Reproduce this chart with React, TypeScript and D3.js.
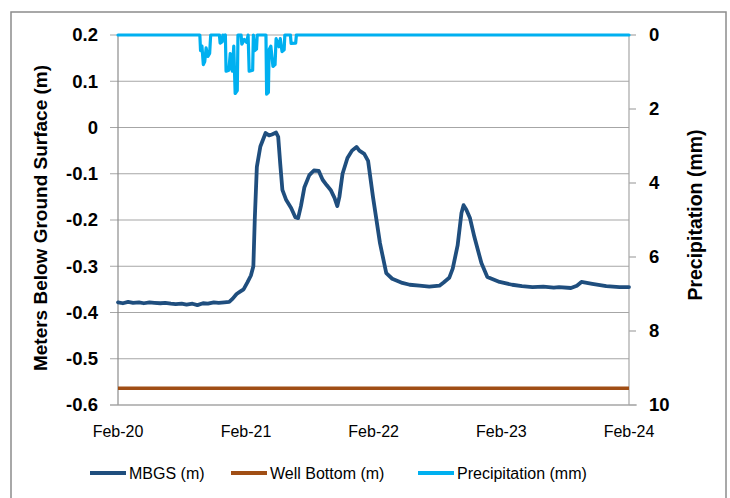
import React from 'react';
import * as d3 from 'd3';

// MBGS (m) readings
const mbgsDates = [
  '2020-02-01', '2020-02-15', '2020-03-01', '2020-03-15', '2020-04-01', '2020-04-15',
  '2020-05-01', '2020-05-15', '2020-06-01', '2020-06-15', '2020-07-01', '2020-07-15',
  '2020-08-01', '2020-08-15', '2020-09-01', '2020-09-15', '2020-10-01', '2020-10-15',
  '2020-11-01', '2020-11-15', '2020-12-01', '2020-12-15', '2020-12-25', '2021-01-05',
  '2021-01-15', '2021-01-25', '2021-02-05', '2021-02-15', '2021-02-22', '2021-02-26',
  '2021-03-04', '2021-03-14', '2021-03-29', '2021-04-08', '2021-04-16', '2021-04-28',
  '2021-05-04', '2021-05-10', '2021-05-16', '2021-05-27', '2021-06-10', '2021-06-22',
  '2021-06-30', '2021-07-08', '2021-07-18', '2021-08-01', '2021-08-14', '2021-08-28',
  '2021-09-08', '2021-09-20', '2021-10-01', '2021-10-12', '2021-10-20', '2021-10-26',
  '2021-11-04', '2021-11-18', '2021-12-01', '2021-12-14', '2021-12-22', '2022-01-05',
  '2022-01-16', '2022-01-30', '2022-02-19', '2022-03-09', '2022-03-26', '2022-04-24',
  '2022-05-15', '2022-06-12', '2022-07-10', '2022-08-08', '2022-08-20', '2022-09-05',
  '2022-09-15', '2022-09-29', '2022-10-10', '2022-10-16', '2022-10-24', '2022-11-03',
  '2022-11-16', '2022-12-06', '2022-12-23', '2023-01-27', '2023-03-04', '2023-04-01',
  '2023-05-01', '2023-06-01', '2023-07-01', '2023-07-16', '2023-08-19', '2023-09-05',
  '2023-09-18', '2023-10-19', '2023-11-28', '2024-01-05', '2024-02-01',
];
const mbgsValues = [
  -0.378, -0.38, -0.377, -0.379, -0.378, -0.38,
  -0.378, -0.379, -0.38, -0.379, -0.381, -0.382,
  -0.381, -0.383, -0.381, -0.384, -0.38, -0.381,
  -0.378, -0.379, -0.378, -0.377, -0.37, -0.36,
  -0.355, -0.35, -0.335, -0.32, -0.3, -0.2,
  -0.085, -0.041, -0.012, -0.017, -0.015, -0.011,
  -0.02, -0.08, -0.135, -0.157, -0.174, -0.194,
  -0.196, -0.17, -0.129, -0.103, -0.093, -0.094,
  -0.113, -0.125, -0.135, -0.152, -0.17, -0.15,
  -0.1, -0.066, -0.05, -0.042, -0.05, -0.057,
  -0.072, -0.15, -0.25, -0.315, -0.327, -0.336,
  -0.34, -0.342, -0.344, -0.342, -0.335, -0.325,
  -0.305, -0.255, -0.185, -0.168, -0.178, -0.195,
  -0.237, -0.293, -0.323, -0.334, -0.34, -0.343,
  -0.345, -0.344, -0.346, -0.345, -0.347, -0.342,
  -0.334, -0.338, -0.343, -0.345, -0.345,
];

const wellBottomDates = ['2020-02-01', '2024-02-01'];
const wellBottomValues = [-0.564, -0.564];

// Precipitation (mm)
const precipDates = [
  '2020-02-01', '2020-09-22', '2020-09-24', '2020-09-28', '2020-10-02', '2020-10-06',
  '2020-10-10', '2020-10-15', '2020-10-20', '2020-10-23', '2020-11-17', '2020-11-19',
  '2020-11-25', '2020-11-27', '2020-12-01', '2020-12-04', '2020-12-06', '2020-12-14',
  '2020-12-18', '2020-12-24', '2020-12-28', '2021-01-01', '2021-01-07', '2021-01-09',
  '2021-01-18', '2021-01-20', '2021-01-27', '2021-02-03', '2021-02-07', '2021-02-10',
  '2021-02-20', '2021-02-22', '2021-02-26', '2021-03-03', '2021-03-05', '2021-03-30',
  '2021-04-01', '2021-04-06', '2021-04-08', '2021-04-13', '2021-04-19', '2021-04-25',
  '2021-04-28', '2021-05-06', '2021-05-10', '2021-05-15', '2021-05-21', '2021-05-23',
  '2021-06-08', '2021-06-10', '2021-06-23', '2021-06-25', '2024-02-01',
];
const precipValues = [
  0, 0, 0.42, 0.3, 0.8, 0.72,
  0.35, 0.58, 0.5, 0, 0, 0.22,
  0.18, 0, 0.1, 0, 0.98, 0.95,
  0.5, 0.98, 0.3, 1.58, 1.5, 0,
  0, 0.25, 0.12, 0.2, 0, 0.98,
  0.95, 0, 0.42, 0.38, 0, 0,
  1.6, 1.55, 0.4, 0.3, 0.85, 0.8,
  0.1, 0.32, 0.1, 0.45, 0.4, 0,
  0, 0.23, 0.22, 0, 0,
];

const leftTicks = [0.2, 0.1, 0, -0.1, -0.2, -0.3, -0.4, -0.5, -0.6];
const leftTickLabels = ['0.2', '0.1', '0', '-0.1', '-0.2', '-0.3', '-0.4', '-0.5', '-0.6'];
const rightTicks = [0, 2, 4, 6, 8, 10];
const xTickDates = ['2020-02-01', '2021-02-01', '2022-02-01', '2023-02-01', '2024-02-01'];

const legendItems = [
  { label: 'MBGS (m)', color: '#1F4E7E' },
  { label: 'Well Bottom (m)', color: '#A04E15' },
  { label: 'Precipitation (mm)', color: '#00B0F0' },
];

const FONT = '"Liberation Sans", Arial, sans-serif';
const parse = d3.utcParse('%Y-%m-%d');

export default function App() {
  const left = 118, right = 629, top = 35, bottom = 405;

  const x = d3.scaleUtc()
    .domain([parse('2020-02-01')!, parse('2024-02-01')!])
    .range([left, right]);
  const y = d3.scaleLinear().domain([-0.6, 0.2]).range([bottom, top]);
  const y2 = d3.scaleLinear().domain([0, 10]).range([top, bottom]);

  const lineLeft = d3.line<[string, number]>()
    .x(d => x(parse(d[0])!))
    .y(d => y(d[1]));
  const lineRight = d3.line<[string, number]>()
    .x(d => x(parse(d[0])!))
    .y(d => y2(d[1]));

  const mbgs = mbgsDates.map((d, i) => [d, mbgsValues[i]] as [string, number]);
  const well = wellBottomDates.map((d, i) => [d, wellBottomValues[i]] as [string, number]);
  const precip = precipDates.map((d, i) => [d, precipValues[i]] as [string, number]);

  const fmt = d3.utcFormat('%b-%y');
  const legendX = [90, 231, 418];

  return (
    <div style={{ position: 'absolute', left: 0, top: 0 }}>
      <svg width={730} height={498} style={{ display: 'block', fontFamily: FONT }}>
        <rect x={0} y={0} width={730} height={498} fill="#fff" />
        <rect x={11} y={12} width={715} height={520} fill="#fff" stroke="#8C8C8C" strokeWidth={1.5} />

        {/* gridlines + left ticks */}
        {leftTicks.map((t, i) => (
          <g key={t}>
            <line x1={left - 8} x2={right} y1={y(t)} y2={y(t)} stroke="#A6A6A6" strokeWidth={1.2} />
            <text x={98} y={y(t)} dy="0.35em" textAnchor="end" fontSize={18.5} fontWeight="bold" fill="#000">
              {leftTickLabels[i]}
            </text>
          </g>
        ))}

        {/* axes */}
        <line x1={left} x2={left} y1={top} y2={bottom} stroke="#8C8C8C" strokeWidth={1.2} />
        <line x1={right} x2={right} y1={top} y2={bottom} stroke="#A6A6A6" strokeWidth={1.2} />
        <line x1={left - 8} x2={right + 8} y1={bottom} y2={bottom} stroke="#A6A6A6" strokeWidth={1.2} />

        {rightTicks.map(t => (
          <g key={t}>
            <line x1={right} x2={right + 7} y1={y2(t)} y2={y2(t)} stroke="#A6A6A6" strokeWidth={1.2} />
            <text x={649} y={y2(t)} dy="0.35em" textAnchor="start" fontSize={18.5} fontWeight="bold" fill="#000">
              {t}
            </text>
          </g>
        ))}

        {xTickDates.map(d => (
          <text key={d} x={x(parse(d)!)} y={437} textAnchor="middle" fontSize={16} fill="#000">
            {fmt(parse(d)!)}
          </text>
        ))}

        {/* series */}
        <path d={lineLeft(mbgs) || undefined} fill="none" stroke="#1F4E7E" strokeWidth={3.8} strokeLinejoin="round" strokeLinecap="round" />
        <path d={lineLeft(well) || undefined} fill="none" stroke="#A04E15" strokeWidth={3.5} />
        <path d={lineRight(precip) || undefined} fill="none" stroke="#00B0F0" strokeWidth={3.2} strokeLinejoin="round" strokeLinecap="round" />

        {/* axis titles */}
        <text transform={`translate(47, ${(top + bottom) / 2 - 2}) rotate(-90)`} textAnchor="middle" fontSize={19} fontWeight="bold" fill="#000">
          Meters Below Ground Surface (m)
        </text>
        <text transform={`translate(702, ${(top + bottom) / 2 - 5}) rotate(-90)`} textAnchor="middle" fontSize={19.5} fontWeight="bold" fill="#000">
          Precipitation (mm)
        </text>

        {/* legend */}
        {legendItems.map((item, i) => (
          <g key={item.label}>
            <line x1={legendX[i]} x2={legendX[i] + 36} y1={473} y2={473} stroke={item.color} strokeWidth={4} />
            <text x={legendX[i] + 39} y={473} dy="0.35em" fontSize={16} fill="#000">
              {item.label}
            </text>
          </g>
        ))}
      </svg>
    </div>
  );
}
